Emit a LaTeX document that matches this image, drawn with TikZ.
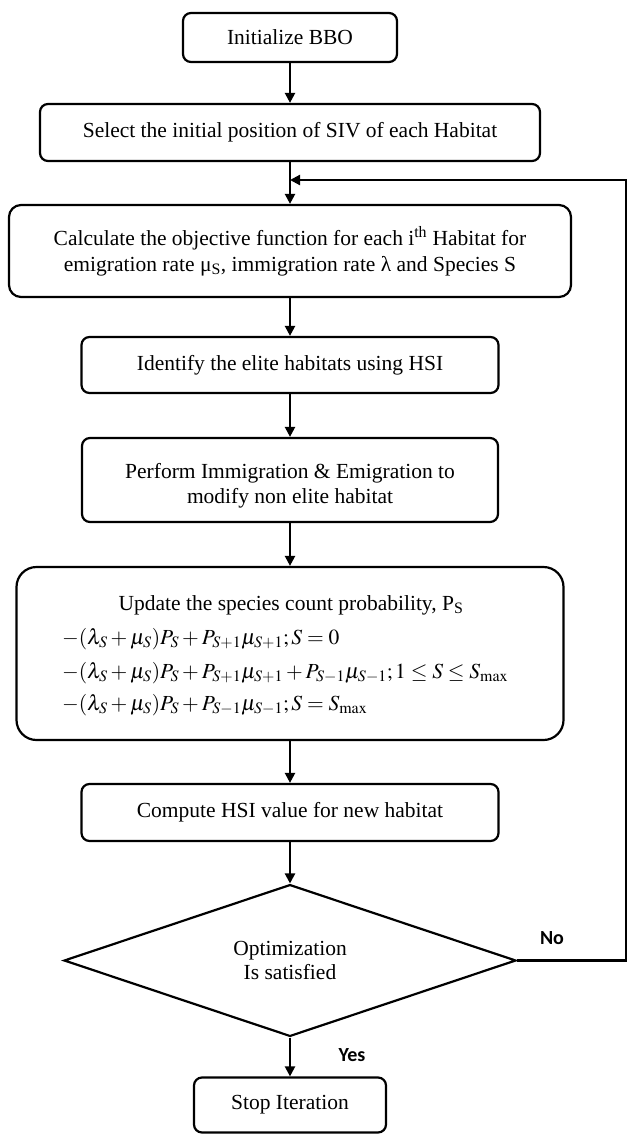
\documentclass[tikz,border=0pt]{standalone}
\usepackage{mathptmx}
\usepackage{fontspec}
\setmainfont{Liberation Serif}
\newfontfamily\lblfont{Carlito}
\usetikzlibrary{shapes.geometric,arrows.meta}
\tikzset{
  box/.style={draw, line width=2.2pt, rounded corners=8pt, inner sep=0pt, align=center,
    font=\fontsize{21.5}{26}\selectfont},
  txt/.style={inner sep=0pt, align=center, font=\fontsize{21.5}{25}\selectfont},
  flow/.style={line width=2.2pt, -{Triangle[length=10pt,width=10pt]}},
  lbl/.style={inner sep=0pt, font=\lblfont\bfseries\fontsize{20}{24}\selectfont}
}
\begin{document}
\begin{tikzpicture}[x=1pt,y=-1pt]
\useasboundingbox (0,0) rectangle (627,1135);
\node[box, minimum width=214pt, minimum height=49pt] (b1) at (290,37.5) {Initialize BBO};
\node[box, minimum width=500pt, minimum height=57pt] (b2) at (290,132.5) {Select the initial position of SIV of each Habitat};
\node[box, rounded corners=12pt, minimum width=562pt, minimum height=92pt] (b3) at (290,251)
  {Calculate the objective function for each i\textsuperscript{th} Habitat for\\emigration rate μ\textsubscript{S}, immigration rate λ and Species S};
\node[box, minimum width=417pt, minimum height=56pt] (b4) at (290,365) {Identify the elite habitats using HSI};
\node[box, minimum width=416pt, minimum height=84pt] (b5) at (290,480) {};
\node[txt] (b5t) at (290,486) {Perform Immigration \& Emigration to\\modify non elite habitat};
\node[box, rounded corners=20pt, minimum width=547pt, minimum height=173pt] (b6) at (290,653.5) {};
\node[txt] (u0) at (291,605) {Update the species count probability, P\textsubscript{S}};
\node[txt, anchor=west] (u1) at (62,639) {$-(\lambda_S+\mu_S)P_S+P_{S+1}\mu_{S+1};S=0$};
\node[txt, anchor=west] (u2) at (62,673) {$-(\lambda_S+\mu_S)P_S+P_{S+1}\mu_{S+1}+P_{S-1}\mu_{S-1};1\le S\le S_{\mathrm{max}}$};
\node[txt, anchor=west] (u3) at (62,705) {$-(\lambda_S+\mu_S)P_S+P_{S-1}\mu_{S-1};S=S_{\mathrm{max}}$};
\node[box, minimum width=417pt, minimum height=57pt] (b7) at (290,812.5) {Compute HSI value for new habitat};
\node[draw, diamond, line width=2.2pt, inner sep=0pt, minimum width=452pt, minimum height=151pt,
  align=center, font=\fontsize{21.5}{24}\selectfont] (dia) at (290,960.5) {Optimization\\Is satisfied};
\node[box, minimum width=192pt, minimum height=55pt] (b8) at (290,1105) {Stop Iteration};
\coordinate (rt) at (626,960.5);
\coordinate (join) at (290,180);
\draw[flow] (b1) -- (b2);
\draw[flow] (b2) -- (b3);
\draw[flow] (b3) -- (b4);
\draw[flow] (b4) -- (b5);
\draw[flow] (b5) -- (b6);
\draw[flow] (b6) -- (b7);
\draw[flow] (b7) -- (dia);
\draw[flow] (dia) -- (b8);
\draw[flow] (dia.east) -- (rt) |- (join);
\node[lbl] (no) at (552,938) {No};
\node[lbl] (yes) at (352,1055) {Yes};
\end{tikzpicture}
\end{document}
